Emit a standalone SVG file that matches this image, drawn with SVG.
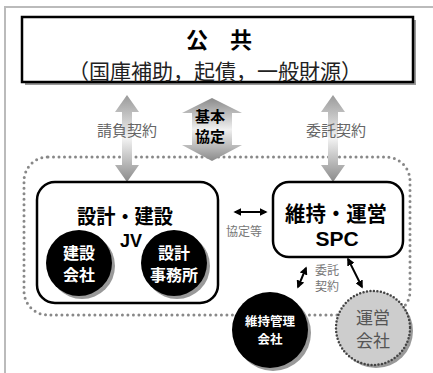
<svg xmlns="http://www.w3.org/2000/svg" width="433" height="373" viewBox="0 0 433 373">
<style>
text{font-family:"Noto Sans CJK JP","Noto Sans",sans-serif;text-anchor:middle}
text.lat{font-family:"Liberation Sans",Arial,sans-serif}
.b{font-weight:bold}
.lab{fill:#666;font-size:15px}
.sm{fill:#777;font-size:12px}
.wt{fill:#fff;font-weight:bold}
.box{fill:#fff;stroke:#000;stroke-width:2.5}
.shadow{fill:#999}
.blk{stroke:#000;stroke-width:2;fill:none}
</style>
<defs>
<linearGradient id="g1" x1="0" y1="0" x2="0" y2="1">
<stop offset="0" stop-color="#9a9a9a"/>
<stop offset="0.5" stop-color="#f2f2f2"/>
<stop offset="1" stop-color="#8a8a8a"/>
</linearGradient>
<linearGradient id="g2" x1="0" y1="0" x2="0" y2="1">
<stop offset="0" stop-color="#8a8a8a"/>
<stop offset="0.5" stop-color="#f0f0f0"/>
<stop offset="1" stop-color="#8a8a8a"/>
</linearGradient>
<marker id="ah" viewBox="0 0 10 10" refX="8" refY="5" markerWidth="4" markerHeight="4" orient="auto-start-reverse">
<path d="M0,0 L10,5 L0,10 z" fill="#000"/>
</marker>
</defs>
<rect width="433" height="373" fill="#fff"/>
<!-- frame -->
<path d="M5,373 V7 H433" fill="none" stroke="#bbb" stroke-width="2"/>

<!-- dotted group boundary -->
<rect x="24" y="157" width="386" height="158" rx="24" fill="none" stroke="#888" stroke-width="3" stroke-linecap="round" stroke-dasharray="0 5.5"/>

<g id="public">
<rect x="25" y="20" width="391" height="65" class="shadow"/>
<rect x="22" y="17" width="391" height="65" class="box" stroke-width="3"/>
<text x="219" y="48" class="b" font-size="22">公　共</text>
<text x="215" y="79" font-size="21" fill="#222">（国庫補助，起債，一般財源）</text>
</g>

<g id="connectors">
<path d="M127,95 L139,112 L132,112 L132,165 L139,165 L127,182 L115,165 L122,165 L122,112 L115,112 z" fill="url(#g1)"/>
<path d="M333,95 L345,112 L338,112 L338,165 L345,165 L333,182 L321,165 L328,165 L328,112 L321,112 z" fill="url(#g1)"/>
<path d="M212,98 L242,113 L232,113 L232,145 L242,145 L212,161 L182,145 L192,145 L192,113 L182,113 z" fill="url(#g2)"/>
<text x="127" y="136" class="lab">請負契約</text>
<text x="336" y="136" class="lab">委託契約</text>
<text x="210" y="122" class="b" font-size="15">基本</text>
<text x="210" y="142" class="b" font-size="15">協定</text>
<line x1="235" y1="212" x2="266" y2="212" class="blk" marker-start="url(#ah)" marker-end="url(#ah)"/>
<text x="244" y="236" class="sm">協定等</text>
<line x1="306" y1="268" x2="298" y2="287" class="blk" marker-start="url(#ah)" marker-end="url(#ah)"/>
<line x1="348" y1="259" x2="362" y2="287" class="blk" stroke-width="2.3" marker-start="url(#ah)" marker-end="url(#ah)"/>
<text x="327" y="275" class="sm">委託</text>
<text x="327" y="291" class="sm">契約</text>
</g>

<g id="jv">
<rect x="37" y="182" width="181" height="121" rx="18" class="box"/>
<text x="125" y="224" class="b" font-size="20" textLength="96" lengthAdjust="spacingAndGlyphs">設計・建設</text>
<text x="131" y="247" class="b lat" font-size="18">JV</text>
</g>
<g id="kensetsu">
<circle cx="82" cy="266" r="33" class="shadow"/>
<circle cx="79" cy="263" r="33" fill="#000"/>
<text x="79" y="259" class="wt" font-size="16">建設</text>
<text x="79" y="281" class="wt" font-size="16">会社</text>
</g>
<g id="sekkei">
<circle cx="177" cy="266" r="33" class="shadow"/>
<circle cx="174" cy="263" r="33" fill="#000"/>
<text x="174" y="259" class="wt" font-size="16">設計</text>
<text x="174" y="281" class="wt" font-size="16">事務所</text>
</g>

<g id="spc">
<rect x="273" y="182" width="130" height="75" rx="16" class="box"/>
<text x="336" y="220.5" class="b" font-size="21" textLength="102" lengthAdjust="spacingAndGlyphs">維持・運営</text>
<text x="337" y="246" class="b lat" font-size="21">SPC</text>
</g>

<g id="iji">
<circle cx="273" cy="333" r="38" class="shadow"/>
<circle cx="270" cy="330" r="38" fill="#000"/>
<text x="270" y="325.5" class="wt" font-size="12.5">維持管理</text>
<text x="270" y="343.5" class="wt" font-size="12.5">会社</text>
</g>
<g id="unei">
<circle cx="376" cy="331" r="37" class="shadow"/>
<circle cx="373" cy="328" r="37" fill="#cdcdcd" stroke="#444" stroke-width="2.5" stroke-dasharray="0 3.5" stroke-linecap="round"/>
<text x="373" y="324" font-size="17" fill="#555">運営</text>
<text x="373" y="347" font-size="17" fill="#555">会社</text>
</g>
</svg>
